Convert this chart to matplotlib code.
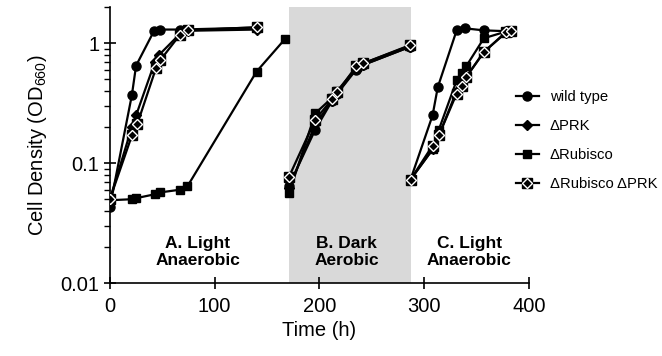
import matplotlib
matplotlib.use('agg')
import matplotlib.pyplot as plt
from matplotlib.lines import Line2D
from matplotlib.legend_handler import HandlerTuple
from matplotlib.ticker import NullFormatter, LogLocator

plt.rcParams['font.family'] = ['Liberation Sans', 'DejaVu Sans']

# phase A: light anaerobic
wt_t_a = [0, 21, 25, 42, 48, 67, 140]
wt_od_a = [0.043, 0.37, 0.65, 1.26, 1.30, 1.30, 1.35]
prk_t_a = [0, 21, 25, 43, 47, 67, 75, 140]
prk_od_a = [0.050, 0.20, 0.25, 0.70, 0.80, 1.20, 1.27, 1.30]
rub_t_a = [0, 21, 25, 43, 48, 67, 74, 140, 167]
rub_od_a = [0.049, 0.050, 0.051, 0.055, 0.057, 0.060, 0.064, 0.58, 1.08]
dbl_t_a = [0, 21, 26, 44, 48, 67, 75, 140]
dbl_od_a = [0.050, 0.17, 0.21, 0.62, 0.72, 1.18, 1.28, 1.36]

# phase B: dark aerobic
t_b = [171, 196, 212, 217, 235, 242, 286]
wt_od_b = [0.065, 0.19, 0.33, 0.38, 0.60, 0.66, 0.93]
prk_od_b = [0.062, 0.21, 0.33, 0.38, 0.62, 0.66, 0.93]
rub_od_b = [0.056, 0.26, 0.35, 0.40, 0.62, 0.68, 0.95]
dbl_od_b = [0.077, 0.23, 0.34, 0.39, 0.64, 0.68, 0.96]

# phase C: light anaerobic
wt_t_c = [287, 308, 313, 331, 339, 357, 378, 383]
wt_od_c = [0.073, 0.25, 0.43, 1.28, 1.33, 1.28, 1.26, 1.26]
t_c = [287, 308, 314, 331, 336, 340, 357, 378, 383]
prk_od_c = [0.073, 0.13, 0.17, 0.40, 0.46, 0.52, 0.85, 1.22, 1.25]
rub_od_c = [0.073, 0.13, 0.19, 0.49, 0.56, 0.64, 1.10, 1.25, 1.27]
dbl_od_c = [0.073, 0.14, 0.17, 0.38, 0.44, 0.52, 0.84, 1.24, 1.26]

phases = [(171, 287)]
labels = ['wild type', '\u0394PRK', '\u0394Rubisco', '\u0394Rubisco \u0394PRK']

fig = plt.figure(figsize=(6.62, 3.56), dpi=100)
ax = fig.add_axes([0.166, 0.205, 0.633, 0.775])

for x0, x1 in phases:
    ax.axvspan(x0, x1, color='#d9d9d9', lw=0, zorder=0)

lw = 1.6
for tt, yy in [(wt_t_a, wt_od_a), (wt_t_c, wt_od_c), (t_b, wt_od_b)]:
    ax.plot(tt, yy, '-o', color='black', lw=lw, ms=6.5, zorder=3)
for tt, yy in [(prk_t_a, prk_od_a), (t_b, prk_od_b), (t_c, prk_od_c)]:
    ax.plot(tt, yy, '-D', color='black', lw=lw, ms=5.5, zorder=3)
for tt, yy in [(rub_t_a, rub_od_a), (t_b, rub_od_b), (t_c, rub_od_c)]:
    ax.plot(tt, yy, '-s', color='black', lw=lw, ms=6, zorder=3)
for tt, yy in [(dbl_t_a, dbl_od_a), (t_b, dbl_od_b), (t_c, dbl_od_c)]:
    ax.plot(tt, yy, '-s', color='black', lw=lw, ms=6.5, zorder=4)
    ax.plot(tt, yy, 'D', mfc='black', mec='white', mew=1.0, ms=5.5, zorder=5)

ax.set_yscale('log')
ax.set_xlim(0, 400)
ax.set_ylim(0.01, 2)
ax.set_xticks([0, 100, 200, 300, 400])
ax.set_yticks([0.01, 0.1, 1])
ax.set_yticklabels(['0.01', '0.1', '1'])
ax.yaxis.set_minor_locator(LogLocator(base=10, subs=range(2, 10)))
ax.yaxis.set_minor_formatter(NullFormatter())
ax.tick_params(axis='x', direction='inout', length=8, width=1.2, labelsize=14.5, pad=6)
ax.tick_params(axis='y', which='major', direction='inout', length=8, width=1.2, labelsize=14.5)
ax.tick_params(axis='y', which='minor', direction='out', length=4, width=1.0)
for s in ['top', 'right']:
    ax.spines[s].set_visible(False)
for s in ['left', 'bottom']:
    ax.spines[s].set_linewidth(1.2)
ax.set_xlabel('Time (h)', fontsize=14.5, labelpad=4)
ax.set_ylabel(r'Cell Density (OD$_{\mathregular{660}}$)', fontsize=14.5, labelpad=8)

txt = dict(ha='center', va='center', fontsize=12.5, fontweight='bold', linespacing=1.2)
ax.text(84, 0.0181, 'A. Light\nAnaerobic', **txt)
ax.text(226, 0.0181, 'B. Dark\nAerobic', **txt)
ax.text(343, 0.0181, 'C. Light\nAnaerobic', **txt)

h_wt = Line2D([], [], color='black', lw=lw, marker='o', ms=6.5)
h_prk = Line2D([], [], color='black', lw=lw, marker='D', ms=5.5)
h_rub = Line2D([], [], color='black', lw=lw, marker='s', ms=6)
h_dbl = (Line2D([], [], color='black', lw=lw, marker='s', ms=6.5),
         Line2D([], [], ls='none', marker='D', mfc='black', mec='white', mew=1.0, ms=5.5))
fig.legend([h_wt, h_prk, h_rub, h_dbl], labels, loc='upper left',
           bbox_to_anchor=(0.779, 0.746), frameon=False, fontsize=10.7,
           handlelength=1.55, handletextpad=0.75, labelspacing=1.0,
           borderpad=0, borderaxespad=0,
           handler_map={tuple: HandlerTuple(ndivide=1, pad=0)})

fig.savefig('out.png', dpi=100)
